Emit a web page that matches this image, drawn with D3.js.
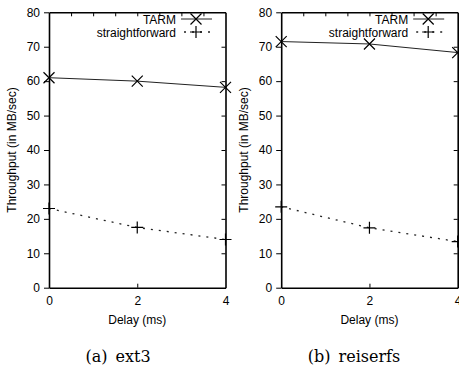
<!DOCTYPE html>
<html>
<head>
<meta charset="utf-8">
<script src="https://cdn.jsdelivr.net/npm/d3@7"></script>
<style>
  html, body { margin: 0; padding: 0; background: #fff; }
  svg { display: block; }
</style>
</head>
<body>
<div id="chart"></div>
<script>
// data
const delays = [0, 2, 4];
const ext3Tarm = [61, 60, 58.2];
const ext3Straight = [23, 17.5, 14];
const reiserTarm = [71.5, 70.8, 68.3];
const reiserStraight = [23.5, 17.4, 13.4];
const yTicks = [0, 10, 20, 30, 40, 50, 60, 70, 80];
const xLabelTicks = [0, 2, 4];
const xTopTicks = [0.5, 1, 1.5, 2, 2.5, 3, 3.5];
const seriesNames = ['TARM', 'straightforward'];

const width = 459, height = 369;
const plotTop = 12.3, plotBottom = 287.7, plotW = 176.5;
const font = 'Liberation Sans, Arial, Helvetica, sans-serif';
const fontSize = 12;

const svg = d3.select('#chart').append('svg')
  .attr('width', width)
  .attr('height', height);

function markX(g, x, y) {
  const s = 5.5;
  g.append('path')
    .attr('d', `M${x - s},${y - s}L${x + s},${y + s}M${x - s},${y + s}L${x + s},${y - s}`)
    .attr('stroke', '#000').attr('stroke-width', 1.2).attr('fill', 'none');
}

function markPlus(g, x, y) {
  const s = 6;
  g.append('path')
    .attr('d', `M${x - s},${y}L${x + s},${y}M${x},${y - s}L${x},${y + s}`)
    .attr('stroke', '#000').attr('stroke-width', 1.2).attr('fill', 'none');
}

function drawPanel(left, tarm, straight, captionA, captionB, captionX) {
  const g = svg.append('g').attr('transform', `translate(${left},0)`);

  const x = d3.scaleLinear().domain([0, 4]).range([0, plotW]);
  const y = d3.scaleLinear().domain([0, 80]).range([plotBottom, plotTop]);

  // Left axis (ticks outward, with labels)
  const ax = g.append('g')
    .call(d3.axisLeft(y).tickValues(yTicks).tickSize(5).tickSizeOuter(0).tickPadding(4));
  // Right axis (inward ticks)
  const ar = g.append('g').attr('transform', `translate(${plotW},0)`)
    .call(d3.axisRight(y).tickValues(yTicks.slice(1, -1)).tickSize(-4).tickSizeOuter(0).tickFormat(''));
  // Top axis (minor inward ticks)
  const at = g.append('g').attr('transform', `translate(0,${plotTop})`)
    .call(d3.axisTop(x).tickValues(xTopTicks).tickSize(-4).tickSizeOuter(0).tickFormat(''));
  // Bottom axis
  const ab = g.append('g').attr('transform', `translate(0,${plotBottom})`)
    .call(d3.axisBottom(x).tickValues(xLabelTicks).tickFormat(d3.format('d'))
      .tickSize(-4).tickSizeOuter(0).tickPadding(9));

  [ax, ar, at, ab].forEach(a => {
    a.select('.domain').attr('stroke', '#000').attr('stroke-width', 1.6);
    a.selectAll('.tick line').attr('stroke', '#000').attr('stroke-width', 1);
    a.selectAll('text').attr('font-family', font).attr('font-size', fontSize).attr('fill', '#000');
  });
  ab.selectAll('.tick').filter(d => d !== 2).select('line').remove();

  // axis titles
  g.append('text')
    .attr('transform', `translate(${-37},${(plotTop + plotBottom) / 2}) rotate(-90)`)
    .attr('text-anchor', 'middle').attr('dy', '0.35em')
    .attr('font-family', font).attr('font-size', fontSize)
    .text('Throughput (in MB/sec)');
  g.append('text')
    .attr('x', plotW / 2).attr('y', 324)
    .attr('text-anchor', 'middle')
    .attr('font-family', font).attr('font-size', fontSize)
    .text('Delay (ms)');

  // series lines
  const line = d3.line().x(d => x(d[0])).y(d => y(d[1]));
  g.append('path')
    .datum(d3.zip(delays, tarm))
    .attr('d', line).attr('fill', 'none')
    .attr('stroke', '#222').attr('stroke-width', 1);
  g.append('path')
    .datum(d3.zip(delays, straight))
    .attr('d', line).attr('fill', 'none')
    .attr('stroke', '#222').attr('stroke-width', 1.3)
    .attr('stroke-dasharray', '2,6');

  delays.forEach((d, i) => {
    markX(g, x(d), y(tarm[i]));
    markPlus(g, x(d), y(straight[i]));
  });

  // legend
  const legY = [20, 33];
  seriesNames.forEach((name, i) => {
    g.append('text')
      .attr('x', 127).attr('y', legY[i]).attr('dy', '0.35em')
      .attr('text-anchor', 'end')
      .attr('font-family', font).attr('font-size', fontSize)
      .text(name);
    g.append('line')
      .attr('x1', 132).attr('x2', 163).attr('y1', legY[i] - 1).attr('y2', legY[i] - 1)
      .attr('stroke', '#222').attr('stroke-width', i ? 1.3 : 1)
      .attr('stroke-dasharray', i ? '2,6' : null)
      .attr('stroke-dashoffset', i ? -3 : null);
    if (i === 0) markX(g, 147, legY[i] - 1);
    else markPlus(g, 147, legY[i] - 1);
  });

  // caption
  const cap = svg.append('text')
    .attr('x', captionX).attr('y', 362)
    .attr('text-anchor', 'middle')
    .attr('font-family', 'DejaVu Serif, Liberation Serif, serif')
    .attr('font-size', 16);
  cap.append('tspan').text(captionA);
  cap.append('tspan').attr('dx', 8).text(captionB);
}

drawPanel(49, ext3Tarm, ext3Straight, '(a)', 'ext3', 118);
drawPanel(281.2, reiserTarm, reiserStraight, '(b)', 'reiserfs', 354);
</script>
</body>
</html>
